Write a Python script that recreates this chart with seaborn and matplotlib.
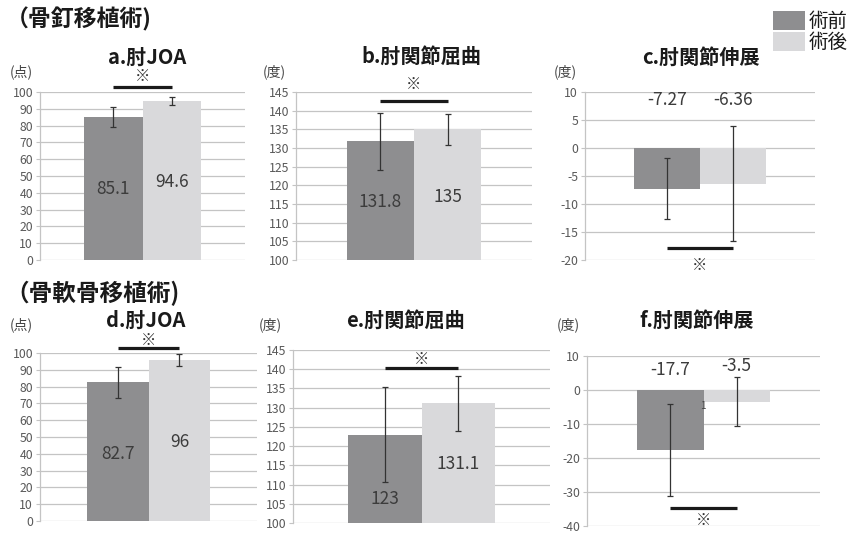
import matplotlib
matplotlib.use("Agg")
import matplotlib.pyplot as plt
import seaborn as sns
import pandas as pd
import numpy as np

# ---------------- data ----------------
groups = ["術前", "術後"]

a_means = [85.1, 94.6]
a_errs = [6.0, 2.5]
b_means = [131.8, 135.0]
b_errs = [7.6, 4.2]
c_means = [-7.27, -6.36]
c_errs = [5.4, 10.3]
d_means = [82.7, 96.0]
d_errs = [9.2, 3.5]
e_means = [123.0, 131.1]
e_errs = [12.3, 7.1]
f_means = [-17.7, -3.5]
f_errs = [13.6, 7.2]

a_labels = ["85.1", "94.6"]
b_labels = ["131.8", "135"]
c_labels = ["-7.27", "-6.36"]
d_labels = ["82.7", "96"]
e_labels = ["123", "131.1"]
f_labels = ["-17.7", "-3.5"]

titles = ["a.肘JOA", "b.肘関節屈曲", "c.肘関節伸展", "d.肘JOA", "e.肘関節屈曲", "f.肘関節伸展"]
units = ["(点)", "(度)", "(度)", "(点)", "(度)", "(度)"]
row_titles = ["（骨釘移植術)", "（骨軟骨移植術)"]

# ---------------- style ----------------
sns.set_theme(style="white")
plt.rcParams["font.family"] = ["Noto Sans CJK JP", "DejaVu Sans"]

DARK = "#8e8e90"
LIGHT = "#d9d9db"
GRID = "#c4c4c4"
TICKC = "#595959"
VALC = "#3c3c3c"

W, H = 849, 533
fig = plt.figure(figsize=(W / 100, H / 100), dpi=100)
fig.patch.set_facecolor("white")


def rect(l, r, t, b):
    return [l / W, 1 - b / H, (r - l) / W, (b - t) / H]


def fx(x):
    return x / W


def fy(y):
    return 1 - y / H


panels = [
    dict(means=a_means, errs=a_errs, labels=a_labels, ylim=(0, 100), step=10,
         rect=rect(40, 245, 92, 260), title_xy=(147, 57), unit_xy=(21, 72),
         sig_y=103.0, mark_y=109.0, label_ys=[42.0, 46.5]),
    dict(means=b_means, errs=b_errs, labels=b_labels, ylim=(100, 145), step=5,
         rect=rect(296, 532, 92, 260), title_xy=(421, 56), unit_xy=(274, 72),
         sig_y=142.6, mark_y=147.0, label_ys=[115.6, 116.9]),
    dict(means=c_means, errs=c_errs, labels=c_labels, ylim=(-20, 10), step=5,
         rect=rect(585, 815, 92, 260), title_xy=(701, 57), unit_xy=(565, 72),
         sig_y=-17.9, mark_y=-21.0, label_ys=[8.6, 8.6]),
    dict(means=d_means, errs=d_errs, labels=d_labels, ylim=(0, 100), step=10,
         rect=rect(40, 257, 353, 521), title_xy=(146, 320), unit_xy=(21, 325),
         sig_y=103.0, mark_y=107.7, label_ys=[40.0, 47.2]),
    dict(means=e_means, errs=e_errs, labels=e_labels, ylim=(100, 145), step=5,
         rect=rect(293, 550, 350, 523), title_xy=(405, 320), unit_xy=(270, 325),
         sig_y=140.3, mark_y=142.6, label_ys=[106.3, 115.4]),
    dict(means=f_means, errs=f_errs, labels=f_labels, ylim=(-40, 10), step=10,
         rect=rect(587, 820, 356, 526), title_xy=(697, 320), unit_xy=(568, 325),
         sig_y=-34.7, mark_y=-38.3, label_ys=[5.9, 7.1]),
]

handles = labels_leg = None
for i, p in enumerate(panels):
    ax = fig.add_axes(p["rect"])
    df = pd.DataFrame({"cat": ["x", "x"], "group": groups, "val": p["means"]})
    sns.barplot(data=df, x="cat", y="val", hue="group", hue_order=groups,
                palette=[DARK, LIGHT], width=0.57, errorbar=None, ax=ax,
                saturation=1, linewidth=0)
    if ax.get_legend() is not None:
        if handles is None:
            handles, labels_leg = ax.get_legend_handles_labels()
        ax.get_legend().remove()
    ax.set_xlim(-0.5, 0.5)
    lo, hi = p["ylim"]
    ax.set_ylim(lo, hi)
    ticks = np.arange(lo, hi + 0.001, p["step"])
    ax.set_yticks(ticks)
    ax.set_yticklabels([f"{int(v)}" for v in ticks])
    ax.tick_params(axis="y", labelsize=8.8, labelcolor=TICKC, length=3, width=0.8,
                   color=GRID, pad=2, left=True)
    ax.set_xticks([])
    ax.set_xlabel("")
    ax.set_ylabel("")
    ax.grid(axis="y", color=GRID, linewidth=0.9)
    ax.set_axisbelow(True)
    for s in ["top", "right", "bottom"]:
        ax.spines[s].set_visible(False)
    ax.spines["left"].set_color(GRID)
    ax.spines["left"].set_linewidth(0.9)
    ax.set_facecolor("white")

    bar_conts = list(ax.containers)
    centers = []
    for k, cont in enumerate(bar_conts):
        bar = cont.patches[0]
        cx = bar.get_x() + bar.get_width() / 2
        centers.append(cx)
    for k, cx in enumerate(centers):
        ax.errorbar([cx], [p["means"][k]], yerr=[p["errs"][k]], fmt="none",
                    ecolor="#333333", elinewidth=0.9, capsize=2.5, capthick=0.9,
                    clip_on=False, zorder=5)
        ax.text(cx, p["label_ys"][k], p["labels"][k], ha="center", va="center",
                fontsize=12.5, color=VALC, zorder=6)

    # significance line and mark
    ax.plot([centers[0], centers[1]], [p["sig_y"], p["sig_y"]], color="#1a1a1a",
            lw=2.3, clip_on=False, solid_capstyle="butt", zorder=6)
    ax.text((centers[0] + centers[1]) / 2, p["mark_y"], "※", ha="center",
            va="center", fontsize=11, color="#333333", clip_on=False)

    tx, ty = p["title_xy"]
    fig.text(fx(tx), fy(ty), titles[i], ha="center", va="center", fontsize=14.5,
             fontweight="bold", color="#1a1a1a")
    ux, uy = p["unit_xy"]
    fig.text(fx(ux), fy(uy), units[i], ha="center", va="center", fontsize=10,
             color="#444444")

# stray mark in panel f
fig.text(fx(703), fy(406), "1", ha="center", va="center", fontsize=7, color="#444444")

# row titles
fig.text(fx(6), fy(19), row_titles[0], ha="left", va="center", fontsize=16.5,
         fontweight="bold", color="#1a1a1a")
fig.text(fx(5), fy(293), row_titles[1], ha="left", va="center", fontsize=17,
         fontweight="bold", color="#1a1a1a")

# legend
if handles is not None:
    leg = fig.legend(handles, labels_leg, loc="upper left",
                     bbox_to_anchor=(fx(773), fy(11)), frameon=False,
                     fontsize=14, handlelength=1.62, handleheight=1.12,
                     labelspacing=0.0, handletextpad=0.2, borderpad=0,
                     borderaxespad=0)
    for t in leg.get_texts():
        t.set_color("#1a1a1a")

fig.savefig("out.png", dpi=100, facecolor="white")
